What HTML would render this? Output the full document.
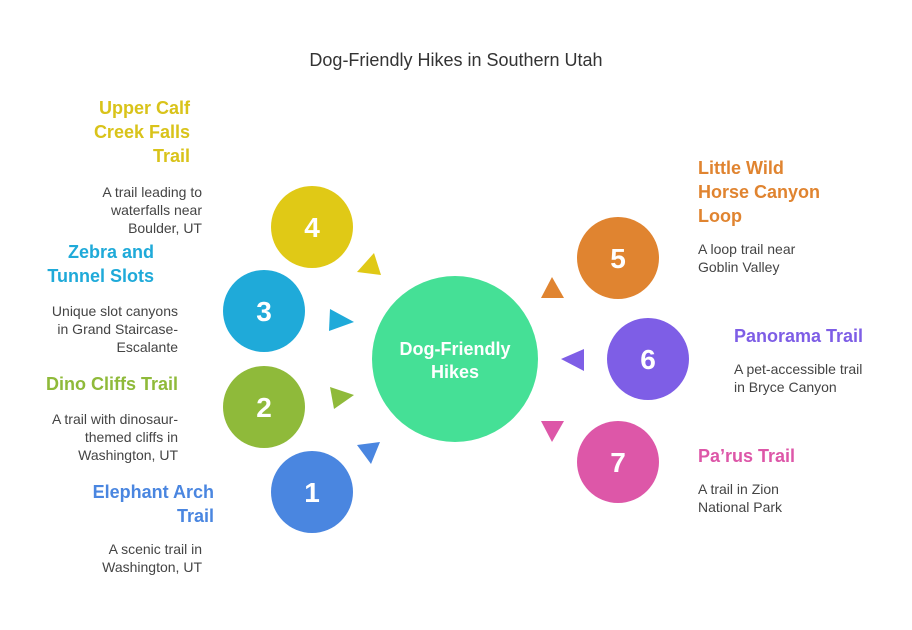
<!DOCTYPE html>
<html><head><meta charset="utf-8"><style>
body{margin:0;background:#fff;}
svg text{font-family:"Liberation Sans",sans-serif;}
.t{font-weight:bold;font-size:18px;}
.d{font-size:14px;fill:#444;}
.n{font-weight:bold;font-size:28px;fill:#fff;}
</style></head><body>
<svg width="912" height="625" viewBox="0 0 912 625" xmlns="http://www.w3.org/2000/svg">
<rect width="912" height="625" fill="#fff"/>
<text x="456" y="66" text-anchor="middle" font-size="18" fill="#333">Dog-Friendly Hikes in Southern Utah</text>
<circle cx="455" cy="359" r="83" fill="#45e096"/>
<text x="455" y="355" text-anchor="middle" font-size="18" font-weight="bold" fill="#fff">Dog-Friendly</text>
<text x="455" y="378" text-anchor="middle" font-size="18" font-weight="bold" fill="#fff">Hikes</text>
<circle cx="312" cy="227" r="41" fill="#e0c916"/><text class="n" x="312" y="237" text-anchor="middle">4</text>
<circle cx="264" cy="311" r="41" fill="#1faad9"/><text class="n" x="264" y="321" text-anchor="middle">3</text>
<circle cx="264" cy="407" r="41" fill="#8fba3a"/><text class="n" x="264" y="417" text-anchor="middle">2</text>
<circle cx="312" cy="492" r="41" fill="#4a86e0"/><text class="n" x="312" y="502" text-anchor="middle">1</text>
<circle cx="618" cy="258" r="41" fill="#e08430"/><text class="n" x="618" y="268" text-anchor="middle">5</text>
<circle cx="648" cy="359" r="41" fill="#7e5ee6"/><text class="n" x="648" y="369" text-anchor="middle">6</text>
<circle cx="618" cy="462" r="41" fill="#dd57a8"/><text class="n" x="618" y="472" text-anchor="middle">7</text>
<polygon points="357,272 374,253 381,275" fill="#e0c916"/>
<polygon points="330,309 354,322 329,331" fill="#1faad9"/>
<polygon points="330,387 354,395 334,409" fill="#8fba3a"/>
<polygon points="357,445 380,442 371,464" fill="#4a86e0"/>
<polygon points="541,298 552,277 564,298" fill="#e08430"/>
<polygon points="561,359 584,349 584,371" fill="#7e5ee6"/>
<polygon points="541,421 564,421 552,442" fill="#dd57a8"/>
<g text-anchor="end">
<text class="t" fill="#d9c31a" x="190" y="114">Upper Calf</text>
<text class="t" fill="#d9c31a" x="190" y="138">Creek Falls</text>
<text class="t" fill="#d9c31a" x="190" y="162">Trail</text>
<text class="d" x="202" y="197">A trail leading to</text>
<text class="d" x="202" y="215">waterfalls near</text>
<text class="d" x="202" y="233">Boulder, UT</text>
<text class="t" fill="#1faad9" x="154" y="258">Zebra and</text>
<text class="t" fill="#1faad9" x="154" y="282">Tunnel Slots</text>
<text class="d" x="178" y="316">Unique slot canyons</text>
<text class="d" x="178" y="334">in Grand Staircase-</text>
<text class="d" x="178" y="352">Escalante</text>
<text class="t" fill="#8fba3a" x="178" y="390">Dino Cliffs Trail</text>
<text class="d" x="178" y="424">A trail with dinosaur-</text>
<text class="d" x="178" y="442">themed cliffs in</text>
<text class="d" x="178" y="460">Washington, UT</text>
<text class="t" fill="#4a86e0" x="214" y="498">Elephant Arch</text>
<text class="t" fill="#4a86e0" x="214" y="522">Trail</text>
<text class="d" x="202" y="554">A scenic trail in</text>
<text class="d" x="202" y="572">Washington, UT</text>
</g>
<text class="t" fill="#e08430" x="698" y="174">Little Wild</text>
<text class="t" fill="#e08430" x="698" y="198">Horse Canyon</text>
<text class="t" fill="#e08430" x="698" y="222">Loop</text>
<text class="d" x="698" y="254">A loop trail near</text>
<text class="d" x="698" y="272">Goblin Valley</text>
<text class="t" fill="#7e5ee6" x="734" y="342">Panorama Trail</text>
<text class="d" x="734" y="374">A pet-accessible trail</text>
<text class="d" x="734" y="392">in Bryce Canyon</text>
<text class="t" fill="#dd57a8" x="698" y="462">Pa’rus Trail</text>
<text class="d" x="698" y="494">A trail in Zion</text>
<text class="d" x="698" y="512">National Park</text>
</svg>
</body></html>
